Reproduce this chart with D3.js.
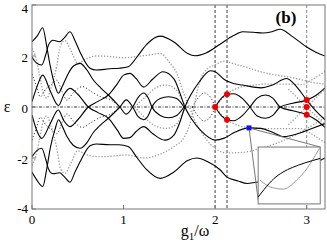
<!DOCTYPE html>
<html>
<head>
<meta charset="utf-8">
<script src="https://cdn.jsdelivr.net/npm/d3@7"></script>
<style>
body { margin: 0; background: #fff; }
text { font-family: "Liberation Serif", "DejaVu Serif", serif; }
</style>
</head>
<body>
<div id="chart"></div>
<script>
// tick values
const xTicks = [0, 1, 2, 3];
const yTicks = [-4, -2, 0, 2, 4];

// levels [g1/omega, epsilon]
// solid lines
const solidTop = [[0,1.96],[0.05,1.72],[0.106,1.65],[0.15,2.05],[0.18,2.43],[0.23,2.62],[0.3,2.56],[0.35,2.7],[0.415,2.95],[0.47,2.6],[0.525,2.15],[0.634,1.52],[0.7,1.45],[0.85,1.5],[0.95,1.52],[1.05,1.58],[1.15,1.98],[1.25,2.45],[1.4,2.78],[1.55,2.55],[1.7,2.1],[1.78,2.01],[1.9,2.12],[2.05,2.45],[2.2,2.8],[2.3,2.95],[2.42,2.93],[2.52,2.9],[2.62,2.95],[2.71,3.05],[2.85,2.75],[3.0,2.35],[3.1,2.15],[3.2,2.0]];
const solidBottom = [[0,-1.95],[0.05,-1.72],[0.106,-1.62],[0.15,-2.05],[0.18,-2.43],[0.23,-2.62],[0.3,-2.58],[0.35,-2.72],[0.415,-2.95],[0.47,-2.55],[0.525,-2.15],[0.634,-1.52],[0.7,-1.45],[0.85,-1.48],[0.95,-1.48],[1.05,-1.55],[1.15,-2.0],[1.25,-2.45],[1.4,-2.8],[1.55,-2.55],[1.7,-2.1],[1.8,-2.0],[1.92,-2.15],[2.05,-2.45],[2.13,-2.75],[2.25,-2.9],[2.35,-3.0],[2.45,-2.95],[2.55,-2.92],[2.65,-2.97],[2.75,-3.05],[2.9,-2.7],[3.05,-2.3],[3.2,-2.0]];
const solidUpperA = [[0,2.56],[0.06,2.8],[0.117,3.11],[0.16,2.4],[0.197,1.65],[0.25,0.85],[0.287,0.54],[0.33,0.8],[0.379,1.19],[0.45,1.6],[0.525,1.71],[0.6,1.45],[0.67,1.06],[0.75,0.75],[0.834,0.47],[0.96,0],[1.03,-0.28],[1.1,0],[1.16,0.38],[1.22,0.55],[1.27,0.35],[1.31,0],[1.4,-0.33],[1.49,-0.42],[1.58,-0.33],[1.66,0]];
const solidLowerA = [[0,-2.55],[0.05,-2.85],[0.117,-3.12],[0.16,-2.45],[0.2,-1.6],[0.25,-0.9],[0.29,-0.5],[0.33,-0.75],[0.38,-1.15],[0.45,-1.5],[0.525,-1.62],[0.6,-1.4],[0.67,-1.0],[0.75,-0.7],[0.834,-0.44],[0.96,0],[1.03,0.28],[1.1,0],[1.16,-0.38],[1.22,-0.5],[1.27,-0.33],[1.31,0],[1.4,0.33],[1.49,0.4],[1.58,0.33],[1.66,0]];
const solidUpperC = [[2.0,0],[2.07,0.35],[2.13,0.5],[2.2,0.52],[2.3,0.33],[2.38,0],[2.46,-0.35],[2.55,-0.44],[2.63,-0.33],[2.71,0],[2.85,0.15],[3.0,0.27],[3.1,0.45],[3.2,0.75]];
const solidLowerC = [[2.0,0],[2.07,-0.35],[2.13,-0.5],[2.2,-0.54],[2.3,-0.33],[2.38,0],[2.46,0.35],[2.55,0.47],[2.63,0.35],[2.71,0],[2.85,-0.15],[3.0,-0.3],[3.1,-0.5],[3.2,-0.8]];
const solidUpperB = [[0,0.21],[0.05,0.75],[0.117,1.25],[0.2,0.62],[0.29,0.06],[0.35,0.5],[0.415,0.73],[0.5,0.5],[0.615,0],[0.72,-0.22],[0.834,-0.44],[0.93,-0.9],[1.0,-1.23],[1.07,-1.2],[1.14,-0.95],[1.22,-0.77],[1.32,-1.05],[1.45,-1.3],[1.55,-1.1],[1.62,-0.55],[1.67,0],[1.73,0.45],[1.82,0.95],[1.95,1.42],[2.0,1.38],[2.1,1.08],[2.2,0.92],[2.3,0.86],[2.5,0.75],[2.62,0.85],[2.78,1.12],[2.9,0.75],[3.0,0.27],[3.1,-0.15],[3.2,-0.5]];
const solidLowerB = [[0,-0.31],[0.05,-0.9],[0.105,-1.23],[0.2,-0.65],[0.287,-0.12],[0.35,-0.55],[0.415,-0.77],[0.5,-0.5],[0.615,0],[0.72,0.22],[0.834,0.47],[0.93,0.9],[1.0,1.25],[1.07,1.32],[1.14,1.1],[1.22,0.78],[1.32,1.1],[1.43,1.38],[1.55,1.1],[1.62,0.5],[1.67,0],[1.74,-0.45],[1.85,-0.95],[2.0,-1.3],[2.1,-1.22],[2.22,-0.98],[2.37,-0.82],[2.5,-0.84],[2.62,-0.98],[2.75,-1.16],[2.9,-1.05],[3.05,-0.85],[3.2,-0.65]];

// grey dotted lines
const greyA = [[0,2.3],[0.04,1.95],[0.08,1.3],[0.12,0.6],[0.16,0.35],[0.22,0.9],[0.27,1.6],[0.31,2.4],[0.36,2.6],[0.42,2.25],[0.5,1.72],[0.6,1.9],[0.7,2.0],[0.85,1.98],[1.0,1.93],[1.15,1.98],[1.3,2.05],[1.4,2.1],[1.5,1.75],[1.59,1.25],[1.65,0.6],[1.72,0],[1.78,-0.55],[1.87,-1.1],[1.96,-1.5],[2.13,-1.8],[2.3,-1.78],[2.5,-1.62],[2.7,-1.38],[2.9,-1.05],[3.05,-0.75],[3.2,-0.4]];
const greyB = [[0,-2.3],[0.04,-1.95],[0.08,-1.3],[0.12,-0.6],[0.16,-0.35],[0.22,-0.9],[0.27,-1.6],[0.31,-2.4],[0.36,-2.6],[0.42,-2.25],[0.5,-1.72],[0.6,-1.88],[0.75,-1.95],[0.9,-1.92],[1.02,-1.88],[1.23,-2.0],[1.4,-1.85],[1.55,-1.55],[1.66,-1.2],[1.73,-0.6],[1.77,0],[1.81,0.7],[1.9,1.45],[2.0,1.65],[2.1,1.8],[2.2,1.7],[2.32,1.58],[2.5,1.38],[2.67,1.25],[2.82,1.17],[2.96,1.05],[3.08,0.95],[3.2,0.9]];
const greyC = [[2.0,0],[2.07,0.3],[2.13,0.5],[2.25,0.75],[2.4,0.85],[2.6,0.9],[2.8,0.9],[2.95,0.88],[3.05,1.05],[3.2,1.4]];
const greyD = [[2.0,0],[2.07,-0.3],[2.13,-0.5],[2.25,-0.72],[2.4,-0.82],[2.6,-0.85],[2.8,-0.85],[2.95,-0.85],[3.05,-1.05],[3.2,-1.4]];
const greyE = [[1.12,0],[1.24,0.4],[1.35,0.75],[1.46,0.86],[1.57,0.7],[1.64,0.27],[1.68,0]];
const greyF = [[1.12,0],[1.24,-0.44],[1.35,-0.75],[1.46,-0.84],[1.57,-0.7],[1.64,-0.27],[1.68,0]];
const greyG = [[2.8,-0.7],[3.0,0],[3.2,0.7]];
const greyH = [[2.8,0.7],[3.0,0],[3.2,-0.7]];

// black dotted lines
const dotA = [[0,1.3],[0.05,0.8],[0.09,0.4],[0.15,0.7],[0.22,0.9],[0.27,1.05],[0.33,0.6],[0.38,0.27],[0.45,0.55],[0.55,0.8],[0.65,0.6],[0.75,0.4],[0.85,0.3],[0.96,0]];
const dotB = [[0,-1.3],[0.05,-0.8],[0.09,-0.4],[0.15,-0.7],[0.22,-0.9],[0.27,-1.05],[0.33,-0.6],[0.38,-0.27],[0.45,-0.55],[0.55,-0.8],[0.65,-0.6],[0.75,-0.4],[0.85,-0.3],[0.96,0]];
const dotC = [[1.75,0],[1.82,0.38],[1.88,0.55],[1.95,0.38],[2.0,0]];
const dotD = [[1.75,0],[1.82,-0.38],[1.88,-0.55],[1.95,-0.38],[2.0,0]];

// marked points
const guideG = [2.0, 2.13, 3.0];
const redPoints = [[2.0,0],[2.13,0.5],[2.13,-0.5],[3.0,0.27],[3.0,0],[3.0,-0.3]];
const bluePoint = [2.37, -0.82];

// inset curves, inset units 0..1
const insetBlack = [[0,0.12],[0.1,0.26],[0.25,0.44],[0.4,0.56],[0.55,0.64],[0.75,0.72],[1.0,0.8]];
const insetGrey = [[0.03,0.42],[0.15,0.32],[0.3,0.27],[0.4,0.26],[0.5,0.3],[0.62,0.42],[0.75,0.57],[0.84,0.71],[1.0,1.0]];

const width = 327, height = 245;
const x = d3.scaleLinear().domain([0, 3.2]).range([32, 325]);
const y = d3.scaleLinear().domain([-4, 4]).range([209, 5]);

const svg = d3.select('#chart').append('svg')
    .attr('width', width).attr('height', height);

svg.append('clipPath').attr('id', 'plot')
    .append('rect')
    .attr('x', x(0)).attr('y', y(4))
    .attr('width', x(3.2) - x(0)).attr('height', y(-4) - y(4));

const line = d3.line()
    .x(d => x(d[0])).y(d => y(d[1]))
    .curve(d3.curveMonotoneX);

const plot = svg.append('g').attr('clip-path', 'url(#plot)');

// vertical guides
plot.selectAll('.guide')
    .data(guideG)
    .enter().append('line')
    .attr('x1', d => x(d)).attr('x2', d => x(d))
    .attr('y1', y(4)).attr('y2', y(-4))
    .attr('stroke', '#888')
    .attr('stroke-width', (d, i) => i < 2 ? 1.6 : 1)
    .attr('stroke-dasharray', '3,2');

// zero line
plot.append('line')
    .attr('x1', x(0)).attr('x2', x(3.2))
    .attr('y1', y(0)).attr('y2', y(0))
    .attr('stroke', '#000').attr('stroke-width', 0.8)
    .attr('stroke-dasharray', '3,1.5,1,1.5');

plot.selectAll('.grey')
    .data([greyA, greyB, greyC, greyD, greyE, greyF, greyG, greyH])
    .enter().append('path')
    .attr('d', line)
    .attr('fill', 'none')
    .attr('stroke', '#9a9a9a')
    .attr('stroke-width', 1.3)
    .attr('stroke-dasharray', '1.3,1.7');

plot.selectAll('.dot')
    .data([dotA, dotB, dotC, dotD])
    .enter().append('path')
    .attr('d', line)
    .attr('fill', 'none')
    .attr('stroke', '#000')
    .attr('stroke-width', 0.9)
    .attr('stroke-dasharray', '1,2.2');

plot.selectAll('.solid')
    .data([solidTop, solidBottom, solidUpperA, solidLowerA, solidUpperC, solidLowerC, solidUpperB, solidLowerB])
    .enter().append('path')
    .attr('d', line)
    .attr('fill', 'none')
    .attr('stroke', '#000')
    .attr('stroke-width', 1.1);

// inset
const inset = { g0: 2.47, g1: 3.148, e0: -1.57, e1: -3.8 };
const ix = d3.scaleLinear().domain([0, 1]).range([x(inset.g0), x(inset.g1)]);
const iy = d3.scaleLinear().domain([0, 1]).range([y(inset.e1), y(inset.e0)]);

// connectors from the blue mark to the inset
svg.append('line')
    .attr('x1', x(bluePoint[0])).attr('y1', y(bluePoint[1]))
    .attr('x2', ix(0)).attr('y2', iy(0.07))
    .attr('stroke', '#777').attr('stroke-width', 1);
svg.append('line')
    .attr('x1', x(bluePoint[0])).attr('y1', y(bluePoint[1]))
    .attr('x2', ix(1)).attr('y2', iy(1))
    .attr('stroke', '#777').attr('stroke-width', 1);

svg.append('rect')
    .attr('x', ix(0)).attr('y', iy(1))
    .attr('width', ix(1) - ix(0)).attr('height', iy(0) - iy(1))
    .attr('fill', '#fff').attr('stroke', '#777').attr('stroke-width', 1);

const iline = d3.line().x(d => ix(d[0])).y(d => iy(d[1])).curve(d3.curveMonotoneX);
svg.append('path').attr('d', iline(insetGrey))
    .attr('fill', 'none').attr('stroke', '#999').attr('stroke-width', 1);
svg.append('path').attr('d', iline(insetBlack))
    .attr('fill', 'none').attr('stroke', '#000').attr('stroke-width', 1);

// marks
svg.selectAll('.red')
    .data(redPoints)
    .enter().append('circle')
    .attr('cx', d => x(d[0])).attr('cy', d => y(d[1]))
    .attr('r', 3).attr('fill', '#ee0000');

svg.append('rect')
    .attr('x', x(bluePoint[0]) - 2.5).attr('y', y(bluePoint[1]) - 2.5)
    .attr('width', 5).attr('height', 5)
    .attr('fill', '#1010ff');

// frame and ticks
svg.append('rect')
    .attr('x', x(0)).attr('y', y(4))
    .attr('width', x(3.2) - x(0)).attr('height', y(-4) - y(4))
    .attr('fill', 'none').attr('stroke', '#777').attr('stroke-width', 1);

svg.selectAll('.xtick')
    .data(xTicks)
    .enter().append('line')
    .attr('x1', d => x(d)).attr('x2', d => x(d))
    .attr('y1', y(-4)).attr('y2', y(-4) - 4)
    .attr('stroke', '#777');

svg.selectAll('.ytick')
    .data(yTicks)
    .enter().append('line')
    .attr('x1', x(0)).attr('x2', x(0) + 4)
    .attr('y1', d => y(d)).attr('y2', d => y(d))
    .attr('stroke', '#777');

svg.selectAll('.xlab')
    .data(xTicks)
    .enter().append('text')
    .attr('x', d => x(d)).attr('y', 224)
    .attr('text-anchor', 'middle')
    .style('font-size', '13px')
    .text(d => d);

// labels kept inside the window at the ends
svg.selectAll('.ylab')
    .data(yTicks)
    .enter().append('text')
    .attr('x', 28).attr('y', d => Math.min(Math.max(y(d) + 5.5, 13), 213))
    .attr('text-anchor', 'end')
    .style('font-size', '13px')
    .text(d => d < 0 ? '-' + Math.abs(d) : d);

svg.append('text')
    .attr('x', 7).attr('y', 112)
    .attr('text-anchor', 'middle')
    .style('font-size', '16px')
    .text('ε');

const xl = svg.append('text')
    .attr('x', 195).attr('y', 236)
    .attr('text-anchor', 'middle')
    .style('font-size', '16px');
xl.append('tspan').text('g');
xl.append('tspan').attr('dy', 4).style('font-size', '11px').text('1');
xl.append('tspan').attr('dy', -4).text('/ω');

svg.append('text')
    .attr('x', 286).attr('y', 23)
    .attr('text-anchor', 'middle')
    .style('font-size', '17px')
    .style('font-weight', 'bold')
    .text('(b)');
</script>
</body>
</html>
